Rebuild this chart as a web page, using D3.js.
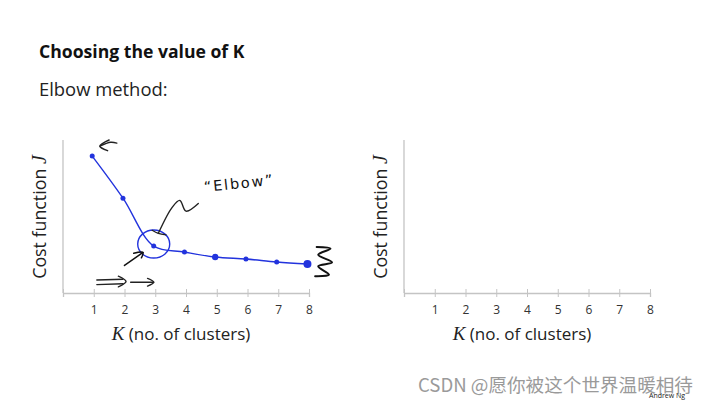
<!DOCTYPE html>
<html>
<head>
<meta charset="utf-8">
<script src="https://cdn.jsdelivr.net/npm/d3@7"></script>
<style>
  body { margin: 0; background: #fff; }
</style>
</head>
<body>
<div id="chart"></div>
<script>
// data
var kValues = [1, 2, 3, 4, 5, 6, 7, 8];
var costValues = [8.95, 6.2, 3.07, 2.68, 2.35, 2.22, 2.03, 1.9];
var xTicks = [1, 2, 3, 4, 5, 6, 7, 8];

var w = 714,
    h = 406,
    svg = d3.select("#chart")
            .append("svg")
            .attr("width", w)
            .attr("height", h);

var font = "'Open Sans', 'DejaVu Sans', sans-serif";

// titles
svg.append("text")
    .attr("x", 39).attr("y", 58)
    .attr("font-family", font).attr("font-size", "17.6px")
    .attr("font-weight", "bold").attr("fill", "#111")
    .text("Choosing the value of K");

svg.append("text")
    .attr("x", 39).attr("y", 96)
    .attr("font-family", font).attr("font-size", "18.4px")
    .attr("fill", "#222")
    .text("Elbow method:");

// draw one set of axes, return scales
function drawAxes(left) {
    var x = d3.scaleLinear().domain([0, 8]).range([left, left + 246]);
    var y = d3.scaleLinear().domain([0, 10]).range([293, 140]);

    var g = svg.append("g");
    // y axis line
    g.append("line")
        .attr("x1", x(0)).attr("x2", x(0))
        .attr("y1", y(10)).attr("y2", y(0))
        .attr("stroke", "#c4c4c4").attr("stroke-width", 1.3);

    // x axis
    var ax = g.append("g")
        .attr("transform", "translate(0," + y(0) + ")")
        .call(d3.axisBottom(x).tickValues([0].concat(xTicks)).tickSize(4).tickPadding(8)
            .tickFormat(function(d) { return d === 0 ? "" : d; }));
    ax.select(".domain").attr("stroke", "#c4c4c4").attr("stroke-width", 1.3);
    ax.selectAll(".tick line").attr("stroke", "#c4c4c4").attr("y1", -4).attr("y2", 4);
    ax.selectAll(".tick text")
        .attr("font-family", font).attr("font-size", "12px").attr("fill", "#333");

    // x label
    var xl = g.append("text")
        .attr("x", x(0) + 118).attr("y", 340)
        .attr("text-anchor", "middle")
        .attr("font-family", font).attr("font-size", "17px").attr("fill", "#222");
    xl.append("tspan").attr("font-family", "'Liberation Serif', serif")
        .attr("font-style", "italic").attr("font-size", "19px").text("K");
    xl.append("tspan").text(" (no. of clusters)");

    // y label
    var yl = g.append("text")
        .attr("transform", "translate(" + (x(0) - 17) + ",217) rotate(-90)")
        .attr("text-anchor", "middle")
        .attr("font-family", font).attr("font-size", "17.8px").attr("fill", "#222");
    yl.append("tspan").text("Cost function ");
    yl.append("tspan").attr("font-family", "'Liberation Serif', serif")
        .attr("font-style", "italic").attr("font-size", "20px").text("J");

    return {x: x, y: y};
}

var left = drawAxes(63);
var right = drawAxes(404);

// the hand-drawn elbow curve
var data = kValues.map(function(k, i) { return {k: k, c: costValues[i]}; });
var x = left.x, y = left.y;
var blue = "#2233dd";

svg.append("path")
    .datum(data)
    .attr("fill", "none")
    .attr("stroke", blue)
    .attr("stroke-width", 1.4)
    .attr("d", d3.line().curve(d3.curveCatmullRom)
        .x(function(d) { return x(d.k - 0.05); })
        .y(function(d) { return y(d.c); }));

svg.selectAll(".pt")
    .data(data)
    .enter().append("circle")
    .attr("cx", function(d) { return x(d.k - 0.05); })
    .attr("cy", function(d) { return y(d.c); })
    .attr("r", function(d, i) { return i === 7 ? 4 : (i === 4 ? 3.2 : 2.5); })
    .attr("fill", blue);

// annotations (in data units)
var pen = d3.line()
    .x(function(d) { return x(d[0]); })
    .y(function(d) { return y(d[1]); });

function ink(pts, col, sw) {
    svg.append("path")
        .attr("d", pen.curve(pts.length > 2 ? d3.curveCatmullRom : d3.curveLinear)(pts))
        .attr("fill", "none")
        .attr("stroke", col || "#222")
        .attr("stroke-width", sw || 1.4)
        .attr("stroke-linecap", "round")
        .attr("stroke-linejoin", "round");
}

// circle around the elbow
svg.append("ellipse")
    .attr("cx", x(2.95)).attr("cy", y(3.2))
    .attr("rx", 16).attr("ry", 14)
    .attr("fill", "none").attr("stroke", blue).attr("stroke-width", 1.4);

// arrow near k = 1
ink([[1.5, 10.0], [1.2, 9.6], [1.45, 9.3]]);
ink([[1.2, 9.6], [1.55, 9.85], [1.75, 9.8]]);

// zigzag arrow pointing at the elbow
ink([[4.4, 5.85], [4.0, 5.35], [3.8, 6.05], [3.55, 5.6], [3.1, 3.9]]);
ink([[2.9, 4.1], [3.1, 3.9], [3.35, 3.8]]);

// small arrow at lower left of circle
ink([[2.0, 1.8], [2.6, 2.65]], "#111", 1.5);
ink([[2.3, 2.6], [2.6, 2.65], [2.55, 2.3]], "#111", 1.5);

// double arrows along the axis
ink([[1.1, 0.55], [1.95, 0.6]]);
ink([[1.1, 0.85], [1.95, 0.9]]);
ink([[1.8, 1.1], [2.05, 0.75], [1.8, 0.4]]);
ink([[2.2, 0.7], [2.95, 0.7]]);
ink([[2.75, 0.95], [2.95, 0.7], [2.75, 0.45]]);

// squiggle beside k = 8
ink([[8.2, 1.1], [8.65, 1.2], [8.3, 1.75], [8.75, 2.0], [8.3, 2.5], [8.7, 2.9], [8.25, 3.0]], "#111", 2);

// "Elbow" label
svg.append("text")
    .attr("x", x(4.6)).attr("y", y(6.6))
    .attr("font-family", "'DejaVu Sans', sans-serif")
    .attr("font-size", "14.5px").attr("fill", "#111")
    .attr("transform", "rotate(-6," + x(4.6) + "," + y(6.6) + ")")
    .attr("letter-spacing", "1.8px")
    .text("\u201CElbow\u201D");

// watermark
svg.append("text")
    .attr("x", 418).attr("y", 392)
    .attr("font-family", "'Noto Sans CJK SC', 'Noto Sans', sans-serif")
    .attr("font-size", "18.6px").attr("fill", "#9a9a9a")
    .text("CSDN @愿你被这个世界温暖相待");

svg.append("text")
    .attr("x", 649).attr("y", 398)
    .attr("font-family", font).attr("font-size", "7px").attr("fill", "#222")
    .text("Andrew Ng");
</script>
</body>
</html>
